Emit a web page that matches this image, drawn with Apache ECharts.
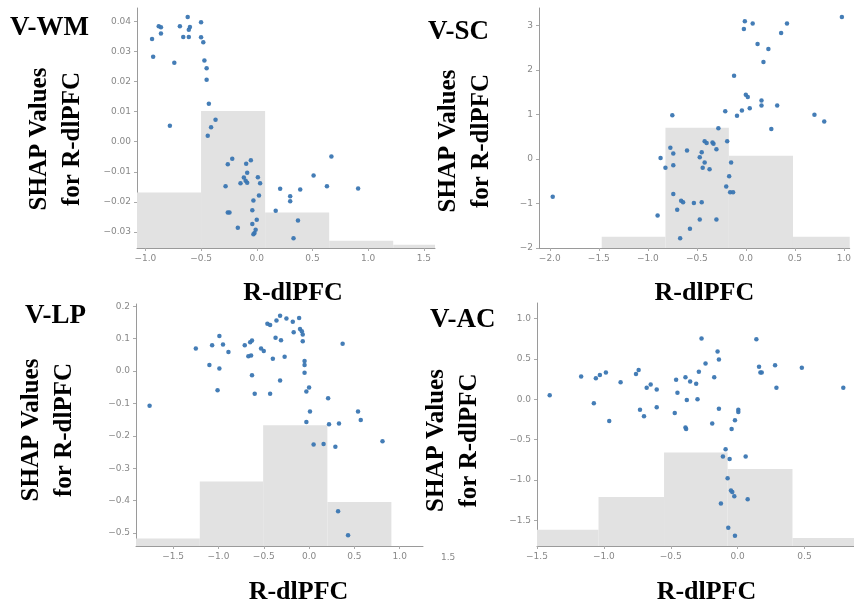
<!DOCTYPE html>
<html>
<head>
<meta charset="utf-8">
<script src="https://cdn.jsdelivr.net/npm/echarts@6/dist/echarts.min.js"></script>
<style>
  html, body { margin: 0; padding: 0; background: #fff; }
  #main { width: 854px; height: 606px; }
</style>
</head>
<body>
<div id="main"></div>
<script>
// panel names
const panelNames = ['V-WM', 'V-SC', 'V-LP', 'V-AC']

// scatter points [R-dlPFC, SHAP value]
const wmPoints = [
  [-0.94, 0.0341], [-0.93, 0.0282], [-0.88, 0.0383], [-0.86, 0.0380], [-0.86, 0.0359],
  [-0.74, 0.0262], [-0.78, 0.0053], [-0.69, 0.0383], [-0.62, 0.0414], [-0.60, 0.0381],
  [-0.61, 0.0372], [-0.66, 0.0348], [-0.61, 0.0348], [-0.50, 0.0397], [-0.50, 0.0347],
  [-0.48, 0.0330], [-0.47, 0.0270], [-0.45, 0.0244], [-0.45, 0.0206], [-0.43, 0.0126],
  [-0.37, 0.0073], [-0.41, 0.0048], [-0.44, 0.0020], [-0.22, -0.0057], [-0.26, -0.0075],
  [-0.28, -0.0148], [-0.26, -0.0235], [-0.245, -0.0235], [-0.17, -0.0286], [-0.146, -0.0138],
  [-0.095, -0.0073], [-0.086, -0.0103], [-0.116, -0.0119], [-0.10, -0.0130], [-0.086, -0.0136],
  [-0.053, -0.0062], [0.01, -0.0118], [0.03, -0.0138], [0.02, -0.0179], [-0.03, -0.0195],
  [-0.04, -0.0228], [-0.04, -0.0273], [0.00, -0.0259], [-0.01, -0.0292], [-0.02, -0.0303],
  [-0.03, -0.0307], [0.17, -0.0229], [0.21, -0.0156], [0.30, -0.0181], [0.30, -0.0198],
  [0.33, -0.0321], [0.37, -0.0262], [0.39, -0.0159], [0.51, -0.0112], [0.63, -0.0148],
  [0.67, -0.0049], [0.91, -0.0155]
]
const scPoints = [
  [-1.97, -0.85], [-0.90, -1.27], [-0.87, 0.02], [-0.82, -0.20], [-0.77, 0.25],
  [-0.74, 0.12], [-0.74, -0.14], [-0.75, 0.98], [-0.74, -0.79], [-0.70, -1.14],
  [-0.66, -0.94], [-0.64, -0.97], [-0.67, -1.78], [-0.60, 0.19], [-0.57, -1.57],
  [-0.53, -0.99], [-0.47, 0.04], [-0.45, 0.15], [-0.44, -0.20], [-0.42, -0.08],
  [-0.45, -0.97], [-0.47, -1.36], [-0.42, 0.40], [-0.40, 0.36], [-0.37, -0.23],
  [-0.34, 0.37], [-0.33, 0.34], [-0.30, 0.22], [-0.28, 0.69], [-0.30, -1.36],
  [-0.21, 1.07], [-0.19, 0.40], [-0.20, -0.62], [-0.17, -0.39], [-0.15, -0.08],
  [-0.16, -0.75], [-0.13, -0.75], [-0.12, 1.87], [-0.09, 0.97], [-0.04, 1.09],
  [-0.02, 2.92], [-0.01, 3.09], [0.07, 3.04], [0.00, 1.44], [0.02, 1.39],
  [0.04, 1.14], [0.12, 2.58], [0.16, 1.31], [0.16, 1.20], [0.18, 2.18],
  [0.23, 2.47], [0.26, 0.67], [0.32, 1.20], [0.36, 2.83], [0.42, 3.04],
  [0.70, 0.99], [0.80, 0.84], [0.98, 3.19]
]
const lpPoints = [
  [-1.76, -0.107], [-1.25, 0.070], [-1.10, 0.019], [-1.07, 0.080], [-0.99, 0.008],
  [-0.99, 0.108], [-0.95, 0.082], [-1.01, -0.059], [-0.89, 0.059], [-0.71, 0.080],
  [-0.67, 0.046], [-0.65, 0.089], [-0.63, 0.094], [-0.64, 0.048], [-0.63, -0.013],
  [-0.60, -0.070], [-0.53, 0.070], [-0.50, 0.062], [-0.43, -0.070], [-0.40, 0.038],
  [-0.46, 0.146], [-0.43, 0.142], [-0.37, 0.103], [-0.36, 0.156], [-0.31, 0.095],
  [-0.32, -0.029], [-0.27, 0.044], [-0.32, 0.171], [-0.25, 0.162], [-0.18, 0.152],
  [-0.17, 0.120], [-0.11, 0.164], [-0.10, 0.130], [-0.08, 0.123], [-0.07, 0.113],
  [-0.07, 0.092], [-0.05, 0.031], [-0.05, 0.019], [-0.05, -0.005], [-0.03, -0.063],
  [0.00, -0.051], [0.01, -0.125], [-0.03, -0.157], [0.05, -0.227], [0.16, -0.225],
  [0.21, -0.084], [0.22, -0.164], [0.29, -0.234], [0.33, -0.162], [0.37, 0.084],
  [0.32, -0.433], [0.43, -0.507], [0.54, -0.125], [0.57, -0.151], [0.81, -0.217]
]
const acPoints = [
  [-1.405, 0.05], [-1.17, 0.28], [-1.06, 0.26], [-1.03, 0.30], [-0.985, 0.33],
  [-1.075, -0.05], [-0.96, -0.27], [-0.875, 0.21], [-0.76, 0.31], [-0.74, 0.36],
  [-0.73, -0.13], [-0.70, -0.21], [-0.68, 0.14], [-0.65, 0.18], [-0.605, 0.12],
  [-0.605, -0.10], [-0.47, -0.17], [-0.46, 0.24], [-0.45, 0.08], [-0.39, -0.35],
  [-0.385, -0.37], [-0.39, 0.27], [-0.355, 0.22], [-0.38, -0.01], [-0.31, 0.19],
  [-0.30, 0.0], [-0.29, 0.34], [-0.27, 0.75], [-0.24, 0.44], [-0.19, -0.30],
  [-0.175, 0.27], [-0.15, 0.59], [-0.14, 0.49], [-0.14, -0.12], [-0.09, -0.62],
  [-0.11, -0.71], [-0.06, -0.74], [-0.075, -0.98], [-0.045, -0.37], [-0.02, -0.26],
  [0.005, -0.13], [0.005, -0.16], [-0.05, -1.13], [-0.04, -1.15], [-0.025, -1.20],
  [-0.125, -1.29], [0.06, -0.71], [0.075, -1.24], [-0.07, -1.59], [-0.02, -1.69],
  [0.14, 0.74], [0.16, 0.40], [0.17, 0.33], [0.18, 0.33], [0.28, 0.42],
  [0.29, 0.14], [0.48, 0.39], [0.79, 0.14]
]

// histogram bins [from, to, top]
const wmBins = [[-1.075, -0.50, -0.0169], [-0.50, 0.075, 0.0102], [0.075, 0.65, -0.0235], [0.65, 1.225, -0.0329], [1.225, 1.60, -0.0342]]
const scBins = [[-1.47, -0.82, -1.75], [-0.82, -0.173, 0.70], [-0.173, 0.481, 0.073], [0.481, 1.06, -1.75]]
const lpBins = [[-1.91, -1.206, -0.517], [-1.206, -0.507, -0.341], [-0.507, 0.202, -0.167], [0.202, 0.908, -0.404]]
const acBins = [[-1.5, -1.04, -1.615], [-1.04, -0.55, -1.212], [-0.55, -0.075, -0.661], [-0.075, 0.41, -0.863], [0.41, 0.87, -1.718]]

// tick values
const wmXTicks = [-1.0, -0.5, 0.0, 0.5, 1.0, 1.5]
const wmYTicks = [-0.03, -0.02, -0.01, 0.0, 0.01, 0.02, 0.03, 0.04]
const scXTicks = [-2.0, -1.5, -1.0, -0.5, 0.0, 0.5, 1.0]
const scYTicks = [-2, -1, 0, 1, 2, 3]
const lpXTicks = [-1.5, -1.0, -0.5, 0.0, 0.5, 1.0]
const lpYTicks = [-0.5, -0.4, -0.3, -0.2, -0.1, 0.0, 0.1, 0.2]
const acXTicks = [-1.5, -1.0, -0.5, 0.0, 0.5]
const acYTicks = [-1.5, -1.0, -0.5, 0.0, 0.5, 1.0]

const xName = 'R-dlPFC'
const yName = 'SHAP Values\nfor R-dlPFC'

let panels = [
  { points: wmPoints, bins: wmBins, xTicks: wmXTicks, yTicks: wmYTicks, xDec: 1, yDec: 2,
    xRange: [-1.075, 1.60], yRange: [-0.0353, 0.0444],
    grid: { left: 137, top: 8, width: 298, height: 240 },
    yGap: 48, yPad: 22, xGap: 32, xPad: 14, title: [10, 15] },
  { points: scPoints, bins: scBins, xTicks: scXTicks, yTicks: scYTicks, xDec: 1, yDec: 0,
    xRange: [-2.11, 1.06], yRange: [-2.0, 3.39],
    grid: { left: 539, top: 8, width: 315, height: 240 },
    yGap: 41, yPad: 26, xGap: 32, xPad: 20, title: [428, 19] },
  { points: lpPoints, bins: lpBins, xTicks: lpXTicks, yTicks: lpYTicks, xDec: 1, yDec: 1,
    xRange: [-1.91, 1.257], yRange: [-0.54, 0.207],
    grid: { left: 136, top: 304, width: 287, height: 243 },
    yGap: 55, yPad: 10, xGap: 33, xPad: 38, title: [25, 303] },
  { points: acPoints, bins: acBins, xTicks: acXTicks, yTicks: acYTicks, xDec: 1, yDec: 1,
    xRange: [-1.5, 0.87], yRange: [-1.817, 1.19],
    grid: { left: 537, top: 303, width: 317, height: 244 },
    yGap: 51, yPad: 32, xGap: 33, xPad: 22, title: [430, 307] }
]

const serif = 'Liberation Serif, Times New Roman, serif'

function fmt(v, dec) {
  return v.toFixed(dec).replace('-', '\u2212')
}

function renderBin(params, api) {
  let p0 = api.coord([api.value(0), api.value(2)])
  let p1 = api.coord([api.value(1), api.value(2)])
  let bottom = params.coordSys.y + params.coordSys.height
  return {
    type: 'rect',
    shape: { x: p0[0], y: p0[1], width: p1[0] - p0[0], height: bottom - p0[1] },
    style: { fill: '#e2e2e2' }
  }
}

let chart = echarts.init(document.getElementById('main'))

let option = {
  animation: false,
  backgroundColor: '#fff',
  title: [],
  grid: [],
  xAxis: [],
  yAxis: [],
  series: [],
  graphic: [
    // leftover tick label between the lower panels
    { type: 'text', left: 441, top: 553, style: { text: '1.5', fontSize: 9, fill: '#888', fontFamily: 'DejaVu Sans' } }
  ]
}

panels.forEach((p, i) => {
  option.title.push({
    text: panelNames[i],
    left: p.title[0],
    top: p.title[1],
    padding: 0,
    textStyle: { fontFamily: serif, fontWeight: 'bold', fontSize: 27, color: '#000' }
  })
  option.grid.push(Object.assign({ containLabel: false }, p.grid))
  let axisCommon = {
    axisLine: { onZero: false, lineStyle: { color: '#9a9a9a', width: 1 } },
    splitLine: { show: false }
  }
  option.xAxis.push(Object.assign({}, axisCommon, {
    type: 'value',
    gridIndex: i,
    min: p.xRange[0],
    max: p.xRange[1],
    axisTick: { show: true, length: 3, lineStyle: { color: '#aaa' }, customValues: p.xTicks },
    axisLabel: {
      customValues: p.xTicks, margin: 6, fontSize: 9, color: '#888', fontFamily: 'DejaVu Sans',
      formatter: v => fmt(v, p.xDec)
    },
    name: xName,
    nameLocation: 'middle',
    nameGap: p.xGap,
    nameTextStyle: { fontFamily: serif, fontWeight: 'bold', fontSize: 26, color: '#000', padding: [0, 0, 0, p.xPad] }
  }))
  option.yAxis.push(Object.assign({}, axisCommon, {
    type: 'value',
    gridIndex: i,
    min: p.yRange[0],
    max: p.yRange[1],
    axisTick: { show: true, length: 3, lineStyle: { color: '#aaa' }, customValues: p.yTicks },
    axisLabel: {
      customValues: p.yTicks, margin: 6, fontSize: 9, color: '#888', fontFamily: 'DejaVu Sans',
      formatter: v => fmt(v, p.yDec)
    },
    name: yName,
    nameLocation: 'middle',
    nameGap: p.yGap,
    nameTextStyle: { fontFamily: serif, fontWeight: 'bold', fontSize: 25, lineHeight: 33, color: '#000', padding: [0, p.yPad, 0, 0] }
  }))
  // gray distribution bars behind the points
  option.series.push({
    type: 'custom',
    xAxisIndex: i,
    yAxisIndex: i,
    renderItem: renderBin,
    encode: { x: [0, 1], y: 2 },
    data: p.bins,
    clip: true,
    silent: true,
    z: 1
  })
  option.series.push({
    type: 'scatter',
    xAxisIndex: i,
    yAxisIndex: i,
    data: p.points,
    symbolSize: 4.5,
    itemStyle: { color: '#3a76b2', opacity: 0.95 },
    z: 3
  })
})

chart.setOption(option)
</script>
</body>
</html>
